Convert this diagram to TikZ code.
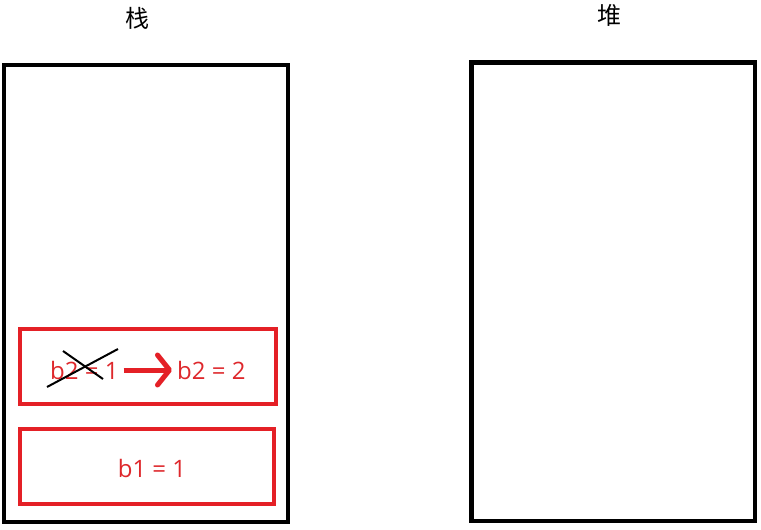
\documentclass[tikz,border=0pt]{standalone}
\usepackage{fontspec}
\setmainfont{Open Sans}
\newfontfamily\cjk{Noto Sans CJK SC}
\usetikzlibrary{arrows.meta}
\definecolor{boxred}{RGB}{228,32,38}
\definecolor{txtred}{RGB}{222,40,44}
\tikzset{
  bigbox/.style={draw=black,line width=4.5pt,minimum width=#1,inner sep=0pt},
  redbox/.style={draw=boxred,line width=4pt,inner sep=0pt,minimum height=75pt},
  title/.style={font=\cjk\fontsize{24}{26}\selectfont,text=black,inner sep=0pt},
  val/.style={font=\fontsize{24}{27}\selectfont,text=txtred,inner sep=0pt},
  cross/.style={black,line width=2pt},
  redarrow/.style={boxred,line width=5pt,-{Straight Barb[length=12pt,width=30pt,line cap=round,line join=round]}}
}
\begin{document}
\begin{tikzpicture}[x=1pt,y=-1pt]
\useasboundingbox[fill=white] (0,0) rectangle (761,530);
\node[bigbox=284pt,minimum height=457pt] (stack) at (146,293.5) {};
\node[bigbox=283.5pt,minimum height=458.5pt] (heap) at (613.25,291.75) {};
\node[title] (stacktitle) at (137.5,18) {栈};
\node[title] (heaptitle) at (609,15) {堆};
\node[redbox,minimum width=255.5pt] (frameb2) at (147.75,366.5) {};
\node[redbox,minimum width=254.5pt] (frameb1) at (146.75,466.5) {};
\node[val,anchor=west] (old) at (50,370) {b2 = 1};
\node[val,anchor=west] (new) at (177,370) {b2 = 2};
\node[val] (b1) at (152,468) {b1 = 1};
\draw[redarrow] ([xshift=5pt]old.east) -- ([xshift=-5pt]new.west);
\coordinate (c1a) at (47,387);
\coordinate (c1b) at (118,349);
\coordinate (c2a) at (63,351);
\coordinate (c2b) at (103,379);
\draw[cross] (c1a) -- (c1b);
\draw[cross] (c2a) -- (c2b);
\end{tikzpicture}
\end{document}
